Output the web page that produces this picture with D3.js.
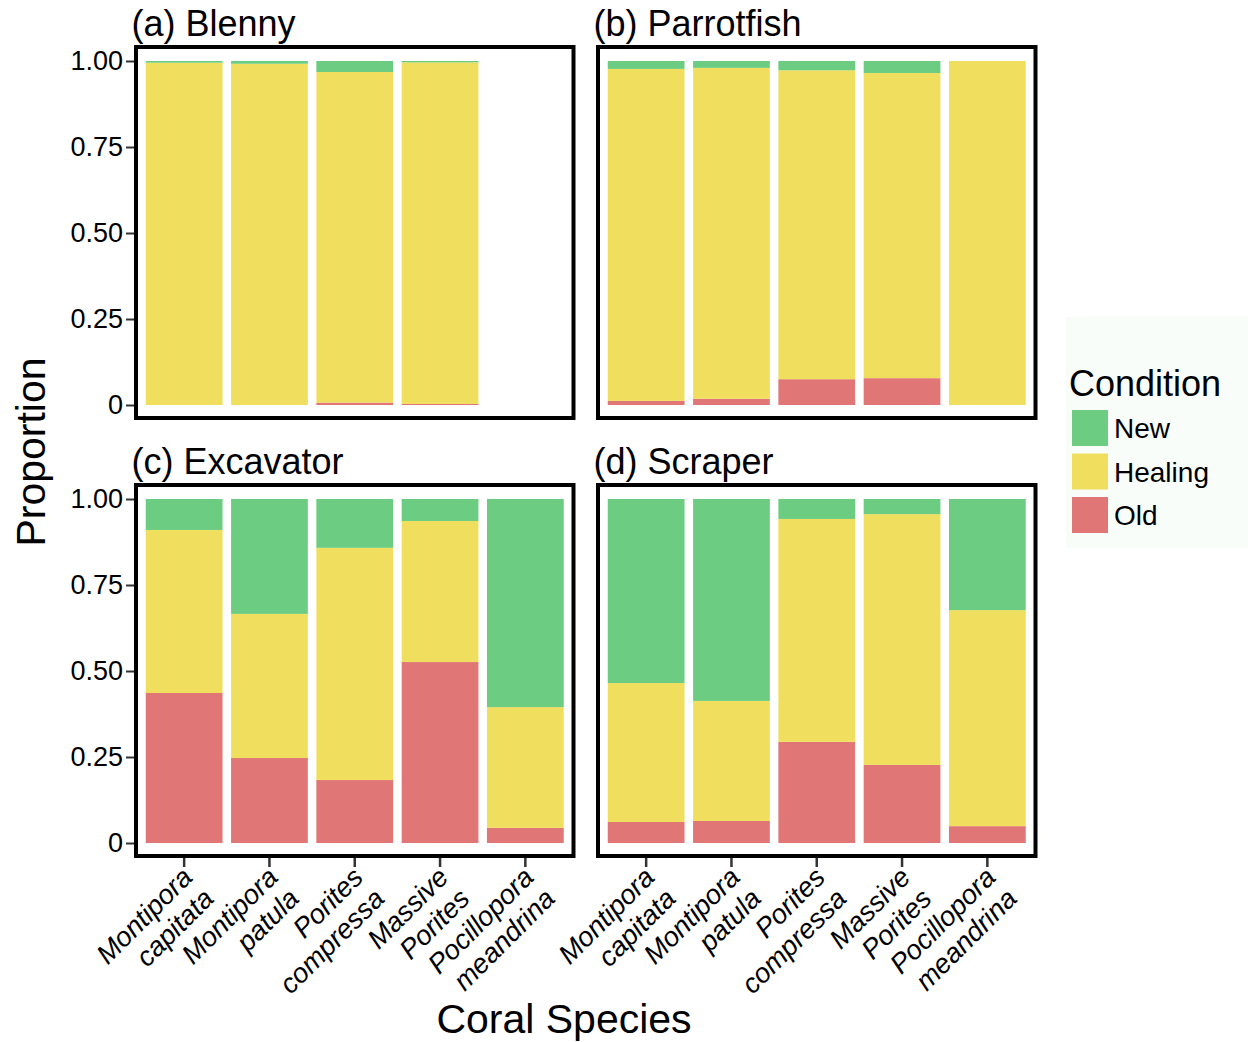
<!DOCTYPE html>
<html>
<head>
<meta charset="utf-8">
<script src="https://cdn.jsdelivr.net/npm/d3@7"></script>
<style>
  body { margin: 0; background: #fff; }
  text { font-family: "Liberation Sans", Arial, sans-serif; }
</style>
</head>
<body>
<script>
// categories
var species = ["Montipora capitata", "Montipora patula", "Porites compressa", "Massive Porites", "Pocillopora meandrina"];
var speciesLines = [["Montipora", "capitata"], ["Montipora", "patula"], ["Porites", "compressa"], ["Massive", "Porites"], ["Pocillopora", "meandrina"]];
var panels = ["(a) Blenny", "(b) Parrotfish", "(c) Excavator", "(d) Scraper"];
var conditions = ["New", "Healing", "Old"];
var yTicks = [0, 0.25, 0.5, 0.75, 1];

// proportions per panel, in species order
var newVals = [
  [0.005, 0.008, 0.032, 0.004, 0],
  [0.023, 0.020, 0.027, 0.035, 0],
  [0.090, 0.334, 0.142, 0.064, 0.605],
  [0.535, 0.587, 0.058, 0.044, 0.323]
];
var healingVals = [
  [0.995, 0.992, 0.961, 0.993, 0],
  [0.965, 0.962, 0.898, 0.887, 1],
  [0.474, 0.419, 0.675, 0.410, 0.351],
  [0.404, 0.349, 0.648, 0.729, 0.628]
];
var oldVals = [
  [0, 0, 0.007, 0.003, 0],
  [0.012, 0.018, 0.075, 0.078, 0],
  [0.436, 0.247, 0.183, 0.526, 0.044],
  [0.061, 0.064, 0.294, 0.227, 0.049]
];

var colors = {New: "#6ccd82", Healing: "#f0de5f", Old: "#e07676"};

var svg = d3.select("body").append("svg")
    .attr("width", 1252)
    .attr("height", 1042);

// panel positions (plot area)
var cols = [[141.5, 568], [603.5, 1030]];
var rows = [[405, 61], [843, 499]];

panels.forEach(function(title, p) {
  var c = cols[p % 2], r = rows[Math.floor(p / 2)];

  var x = d3.scaleBand()
      .domain(species)
      .range(c)
      .paddingInner(0.1)
      .paddingOuter(0.05);
  var y = d3.scaleLinear()
      .domain([0, 1])
      .range(r);

  var data = species.map(function(s, i) {
    return {species: s, New: newVals[p][i], Healing: healingVals[p][i], Old: oldVals[p][i]};
  });
  var stack = d3.stack().keys(["Old", "Healing", "New"])(data);

  var g = svg.append("g");

  // bars
  g.selectAll(".layer")
      .data(stack)
    .enter().append("g")
      .attr("fill", function(d) { return colors[d.key]; })
    .selectAll("rect")
      .data(function(d) { return d; })
    .enter().append("rect")
      .filter(function(d) { return d[1] - d[0] > 0; })
      .attr("x", function(d) { return x(d.data.species); })
      .attr("width", x.bandwidth())
      .attr("y", function(d) { return y(d[1]); })
      .attr("height", function(d) { return y(d[0]) - y(d[1]); });

  // panel border
  g.append("rect")
      .attr("x", c[0] - 5.5)
      .attr("y", r[1] - 14)
      .attr("width", c[1] - c[0] + 11)
      .attr("height", r[0] - r[1] + 27)
      .attr("fill", "none")
      .attr("stroke", "#000")
      .attr("stroke-width", 4);

  // panel title
  g.append("text")
      .attr("x", c[0] - 10)
      .attr("y", r[1] - 25)
      .attr("font-size", 36)
      .text(title);

  // y axis on left column
  if (p % 2 === 0) {
    var ya = g.append("g")
        .attr("transform", "translate(" + (c[0] - 7.5) + ",0)")
        .call(d3.axisLeft(y).tickValues(yTicks).tickSize(8).tickPadding(3)
          .tickFormat(function(d) { return d === 0 ? "0" : d3.format(".2f")(d); }));
    ya.select(".domain").remove();
    ya.selectAll("line").attr("stroke", "#333").attr("stroke-width", 2);
    ya.selectAll("text").attr("font-size", 27).attr("fill", "#000")
        .attr("font-family", "Liberation Sans, Arial, sans-serif");
  }

  // x axis on bottom row
  if (p >= 2) {
    var xa = g.append("g")
        .attr("transform", "translate(0," + (r[0] + 15) + ")")
        .call(d3.axisBottom(x).tickSize(9).tickFormat(""));
    xa.select(".domain").remove();
    xa.selectAll("line").attr("stroke", "#333").attr("stroke-width", 2.5);

    species.forEach(function(s, i) {
      var t = g.append("text")
          .attr("transform", "translate(" + (x(s) + x.bandwidth() / 2 + 10) + "," + (r[0] + 36) + ") rotate(-45)")
          .attr("text-anchor", "end")
          .attr("font-size", 27.5)
          .attr("font-style", "italic");
      speciesLines[i].forEach(function(line, k) {
        t.append("tspan")
            .attr("x", 0)
            .attr("dy", k === 0 ? 0 : 30)
            .text(line);
      });
    });
  }
});

// axis titles
svg.append("text")
    .attr("transform", "translate(45,452) rotate(-90)")
    .attr("text-anchor", "middle")
    .attr("font-size", 41)
    .text("Proportion");

svg.append("text")
    .attr("x", 564)
    .attr("y", 1033)
    .attr("text-anchor", "middle")
    .attr("font-size", 41)
    .text("Coral Species");

// legend
var legend = svg.append("g");
legend.append("rect")
    .attr("x", 1066).attr("y", 317)
    .attr("width", 182).attr("height", 231)
    .attr("fill", "#f9fdfa");
legend.append("text")
    .attr("x", 1069).attr("y", 396)
    .attr("font-size", 36)
    .text("Condition");
legend.selectAll(".key")
    .data(conditions)
  .enter().append("rect")
    .attr("x", 1072)
    .attr("y", function(d, i) { return 410 + i * 43.5; })
    .attr("width", 36).attr("height", 36)
    .attr("fill", function(d) { return colors[d]; });
legend.selectAll(".lab")
    .data(conditions)
  .enter().append("text")
    .attr("x", 1114)
    .attr("y", function(d, i) { return 438 + i * 43.5; })
    .attr("font-size", 28)
    .text(function(d) { return d; });
</script>
</body>
</html>
